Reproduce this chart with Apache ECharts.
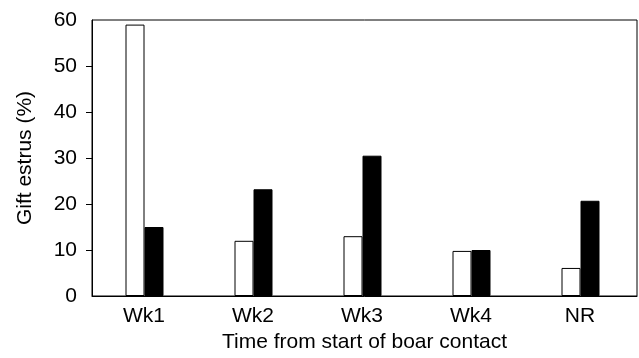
<!DOCTYPE html>
<html>
<head>
<meta charset="utf-8">
<script src="https://cdn.jsdelivr.net/npm/echarts@6/dist/echarts.min.js"></script>
<style>
  html, body { margin: 0; padding: 0; background: #fff; }
  #chart { width: 639px; height: 358px; }
</style>
</head>
<body>
<div id="chart"></div>
<script>
// Gilt estrus by week from start of boar contact
const categories = ['Wk1', 'Wk2', 'Wk3', 'Wk4', 'NR'];
const openBars = [59, 12, 13, 9.8, 6.1];
const filledBars = [15, 23.2, 30.5, 10, 20.7];
const yTicks = [10, 20, 30, 40, 50];

const font = 'Liberation Sans, Arial, Helvetica, sans-serif';
const textStyle = { fontFamily: font, fontSize: 21, color: '#000' };
const chart = echarts.init(document.getElementById('chart'), null, { renderer: 'canvas' });

chart.setOption({
  animation: false,
  backgroundColor: '#fff',
  grid: {
    left: 92, right: 2, top: 20, bottom: 62,
    show: true, borderColor: '#000', borderWidth: 1, backgroundColor: 'transparent'
  },
  xAxis: {
    type: 'category',
    data: categories,
    name: 'Time from start of boar contact',
    nameLocation: 'middle',
    nameGap: 36,
    nameTextStyle: textStyle,
    axisLine: { lineStyle: { color: '#000', width: 1 } },
    axisTick: { show: false },
    axisLabel: Object.assign({ margin: 10, padding: [0, 5, 0, 0] }, textStyle)
  },
  yAxis: {
    type: 'value',
    min: 0, max: 60, interval: 10,
    name: 'Gift estrus (%)',
    nameLocation: 'middle',
    nameGap: 56,
    nameTextStyle: textStyle,
    axisLine: { show: true, lineStyle: { color: '#000', width: 1 } },
    axisTick: { show: true, length: 6, customValues: yTicks, lineStyle: { color: '#000' } },
    axisLabel: Object.assign({ margin: 15 }, textStyle),
    splitLine: { show: false }
  },
  series: [
    {
      type: 'bar',
      data: openBars,
      barWidth: 19,
      barGap: '0%',
      itemStyle: { color: '#fff', borderColor: '#000', borderWidth: 1 }
    },
    {
      type: 'bar',
      data: filledBars,
      barWidth: 19,
      itemStyle: { color: '#000', borderColor: '#000', borderWidth: 1 }
    },
    {
      // empty slot that nudges each bar pair slightly left of the category centre
      type: 'bar',
      data: [],
      barWidth: 4,
      silent: true
    }
  ]
});
</script>
</body>
</html>
